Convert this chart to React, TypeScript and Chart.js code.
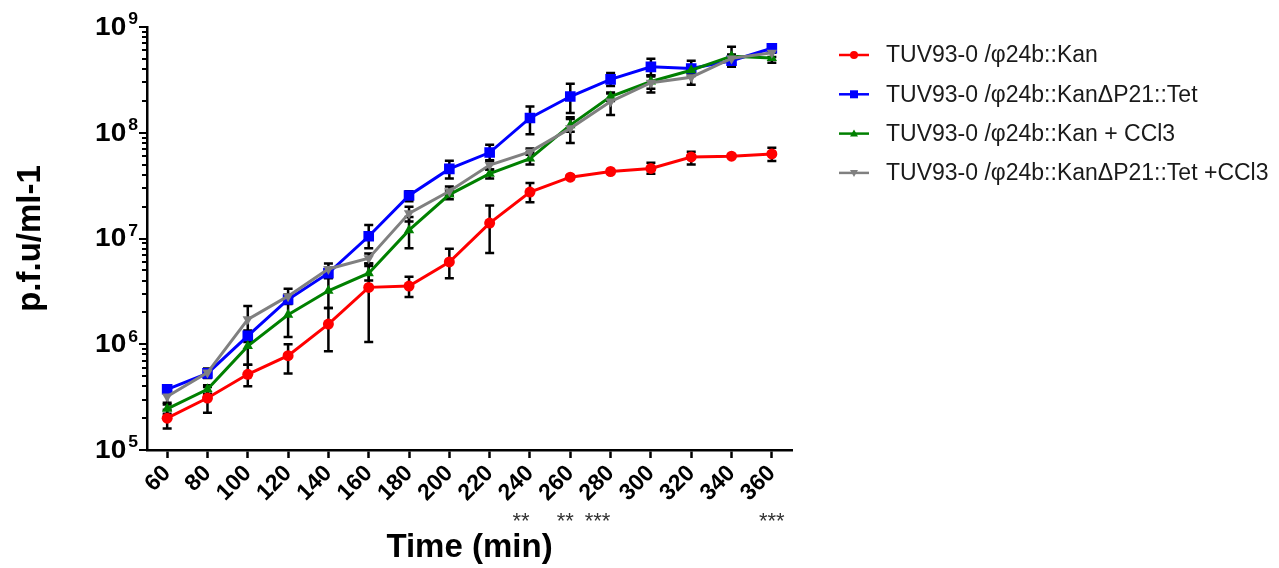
import React, { useEffect, useRef } from 'react';
import { Chart, registerables } from 'chart.js';

Chart.register(...registerables);

// ---------- data ----------
const timeLabels = ['60', '80', '100', '120', '140', '160', '180', '200', '220', '240', '260', '280', '300', '320', '340', '360'];

const seriesNames = [
  'TUV93-0 /\u03c624b::Kan',
  'TUV93-0 /\u03c624b::Kan\u0394P21::Tet',
  'TUV93-0 /\u03c624b::Kan + CCl3',
  'TUV93-0 /\u03c624b::Kan\u0394P21::Tet +CCl3',
];

const kanValues = [2.0e5, 3.1e5, 5.2e5, 7.8e5, 1.55e6, 3.45e6, 3.55e6, 6.0e6, 1.4e7, 2.75e7, 3.8e7, 4.3e7, 4.6e7, 5.9e7, 6.0e7, 6.3e7];
const kanLow = [1.6e5, 2.25e5, 4.0e5, 5.3e5, 8.6e5, 1.05e6, 2.8e6, 4.2e6, 7.3e6, 2.2e7, 3.65e7, 4.15e7, 4.1e7, 5.0e7, 5.8e7, 5.4e7];
const kanHigh = [2.4e5, 3.95e5, 6.4e5, 1.0e6, 2.2e6, 5.8e6, 4.35e6, 8.0e6, 2.05e7, 3.35e7, 3.95e7, 4.45e7, 5.2e7, 6.6e7, 6.2e7, 7.2e7];

const tetValues = [3.75e5, 5.3e5, 1.2e6, 2.65e6, 4.7e6, 1.05e7, 2.55e7, 4.55e7, 6.5e7, 1.38e8, 2.2e8, 3.2e8, 4.2e8, 4.05e8, 4.8e8, 6.3e8];
const tetLow = [3.6e5, 5.0e5, 1.05e6, 2.4e6, 4.3e6, 8.1e6, 2.25e7, 3.7e7, 5.5e7, 9.7e7, 1.54e8, 2.77e8, 3.5e8, 3.45e8, 4.4e8, 5.8e8];
const tetHigh = [3.9e5, 5.7e5, 1.35e6, 2.95e6, 5.1e6, 1.34e7, 2.8e7, 5.45e7, 7.7e7, 1.77e8, 2.9e8, 3.67e8, 5.0e8, 4.8e8, 5.0e8, 6.8e8];

const kanCclValues = [2.45e5, 3.75e5, 9.6e5, 1.9e6, 3.2e6, 4.7e6, 1.2e7, 2.6e7, 4.1e7, 5.7e7, 1.18e8, 2.2e8, 3.05e8, 3.9e8, 5.3e8, 5.1e8];
const kanCclLow = [2.2e5, 3.4e5, 6.4e5, 1.17e6, 2.2e6, 4.0e6, 8.1e6, 2.35e7, 3.7e7, 5.0e7, 1.02e8, 2.0e8, 2.6e8, 3.6e8, 4.2e8, 4.6e8];
const kanCclHigh = [2.7e5, 4.1e5, 1.29e6, 2.6e6, 4.2e6, 5.5e6, 1.6e7, 2.85e7, 4.5e7, 6.5e7, 1.35e8, 2.4e8, 3.4e8, 4.2e8, 6.5e8, 5.7e8];

const tetCclValues = [3.2e5, 5.4e5, 1.72e6, 2.85e6, 5.15e6, 6.5e6, 1.73e7, 2.8e7, 4.95e7, 6.6e7, 1.1e8, 1.97e8, 2.97e8, 3.35e8, 5.05e8, 5.7e8];
const tetCclLow = [2.8e5, 4.8e5, 1.15e6, 2.5e6, 4.5e6, 5.8e6, 1.45e7, 2.55e7, 4.5e7, 6.2e7, 8.0e7, 1.47e8, 2.4e8, 2.85e8, 4.6e8, 5.2e8];
const tetCclHigh = [3.6e5, 5.9e5, 2.3e6, 3.35e6, 5.8e6, 7.2e6, 2.0e7, 3.1e7, 5.4e7, 7.1e7, 1.4e8, 2.35e8, 3.5e8, 3.7e8, 5.5e8, 6.2e8];

const yExponents = [5, 6, 7, 8, 9];
const significanceLabels = ['240', '260', '280', '360'];
const significanceMarks = ['**', '**', '***', '***'];

// ---------- styling ----------
const FONT = '"Liberation Sans", Arial, Helvetica, sans-serif';
const colors = ['#ff0000', '#0000ff', '#008000', '#808080'];
const pointStyles = ['circle', 'rect', 'triangle', 'triangle'];
const pointRotations = [0, 0, 0, 180];
const pointRadii = [5.5, 7.5, 6, 6];
const starOffsets = [-9, -5, -13, 0];

const lows = [kanLow, tetLow, kanCclLow, tetCclLow];
const highs = [kanHigh, tetHigh, kanCclHigh, tetCclHigh];

function drawMarker(ctx: CanvasRenderingContext2D, style: string, rot: number, x: number, y: number, r: number, color: string) {
  ctx.save();
  ctx.fillStyle = color;
  ctx.beginPath();
  if (style === 'circle') {
    ctx.arc(x, y, r, 0, Math.PI * 2);
  } else if (style === 'rect') {
    ctx.rect(x - r, y - r, 2 * r, 2 * r);
  } else {
    const dir = rot === 180 ? -1 : 1;
    ctx.moveTo(x, y - dir * r);
    ctx.lineTo(x + r, y + dir * r * 0.7);
    ctx.lineTo(x - r, y + dir * r * 0.7);
    ctx.closePath();
  }
  ctx.fill();
  ctx.restore();
}

function drawStretched(ctx: CanvasRenderingContext2D, text: string, font: string, xRight: number, yMid: number, sx: number) {
  ctx.save();
  ctx.font = font;
  const w = ctx.measureText(text).width * sx;
  ctx.translate(xRight, yMid);
  ctx.scale(sx, 1);
  ctx.textAlign = 'right';
  ctx.textBaseline = 'middle';
  ctx.fillText(text, 0, 0);
  ctx.restore();
  return w;
}

const customPlugin = {
  id: 'customDecor',
  beforeDatasetsDraw(chart: any) {
    const { ctx } = chart;
    const x = chart.scales.x;
    const y = chart.scales.y;
    ctx.save();
    ctx.strokeStyle = '#000';
    ctx.lineWidth = 2.5;
    chart.data.datasets.forEach((ds: any, di: number) => {
      ds.data.forEach((_v: number, i: number) => {
        const px = x.getPixelForValue(i);
        const yl = y.getPixelForValue(lows[di][i]);
        const yh = y.getPixelForValue(highs[di][i]);
        ctx.beginPath();
        ctx.moveTo(px, yl);
        ctx.lineTo(px, yh);
        ctx.moveTo(px - 4.5, yl);
        ctx.lineTo(px + 4.5, yl);
        ctx.moveTo(px - 4.5, yh);
        ctx.lineTo(px + 4.5, yh);
        ctx.stroke();
      });
    });
    ctx.restore();
  },
  afterDraw(chart: any) {
    const { ctx, chartArea } = chart;
    const y = chart.scales.y;
    const x = chart.scales.x;
    const left = chartArea.left;
    ctx.save();
    // y ticks (major + minor)
    ctx.strokeStyle = '#000';
    ctx.lineWidth = 2;
    yExponents.forEach((e) => {
      for (let m = 1; m <= 9; m++) {
        if (e === 9 && m > 1) break;
        const v = m * Math.pow(10, e);
        const py = Math.round(y.getPixelForValue(v));
        const len = m === 1 ? 8 : 5;
        ctx.beginPath();
        ctx.moveTo(left - len, py);
        ctx.lineTo(left, py);
        ctx.stroke();
      }
    });
    // y tick labels 10^n
    ctx.fillStyle = '#000';
    yExponents.forEach((e) => {
      const py = y.getPixelForValue(Math.pow(10, e));
      const xr = left - 9;
      const supW = drawStretched(ctx, String(e), `bold 16px ${FONT}`, xr, py - 7, 1.1);
      drawStretched(ctx, '10', `bold 25px ${FONT}`, xr - supW - 2, py + 1, 1.12);
    });
    // significance stars
    ctx.font = `22px ${FONT}`;
    ctx.fillStyle = '#333';
    ctx.textAlign = 'center';
    ctx.textBaseline = 'alphabetic';
    significanceLabels.forEach((lab, i) => {
      const idx = timeLabels.indexOf(lab);
      const px = x.getPixelForValue(idx) + starOffsets[i];
      ctx.fillText(significanceMarks[i], px, 528);
    });
    // legend
    const lx0 = 839;
    const lx1 = 869;
    const tx = 886;
    const ly0 = 55;
    const step = 39.3;
    seriesNames.forEach((name, i) => {
      const ly = ly0 + i * step;
      ctx.strokeStyle = colors[i];
      ctx.lineWidth = 2.5;
      ctx.beginPath();
      ctx.moveTo(lx0, ly);
      ctx.lineTo(lx1, ly);
      ctx.stroke();
      drawMarker(ctx, pointStyles[i], pointRotations[i], (lx0 + lx1) / 2, ly, 4, colors[i]);
      ctx.fillStyle = '#1a1a1a';
      ctx.font = `23px ${FONT}`;
      ctx.textAlign = 'left';
      ctx.textBaseline = 'middle';
      ctx.fillText(name, tx, ly + 1);
    });
    ctx.restore();
  },
};

export default function App() {
  const canvasRef = useRef<HTMLCanvasElement | null>(null);

  useEffect(() => {
    const canvas = canvasRef.current;
    if (!canvas) return;
    const valueSets = [kanValues, tetValues, kanCclValues, tetCclValues];
    const chart = new Chart(canvas, {
      type: 'line',
      data: {
        labels: timeLabels,
        datasets: valueSets.map((vals, i) => ({
          label: seriesNames[i],
          data: vals,
          borderColor: colors[i],
          backgroundColor: colors[i],
          borderWidth: 3,
          pointStyle: pointStyles[i] as any,
          rotation: pointRotations[i],
          pointRadius: pointRadii[i],
          pointBorderWidth: 0,
          pointBackgroundColor: colors[i],
          tension: 0,
          fill: false,
          order: 3 - i,
        })),
      },
      options: {
        responsive: false,
        animation: false,
        layout: { padding: { left: 0, top: 27, right: 487, bottom: 0 } },
        plugins: {
          legend: { display: false },
          tooltip: { enabled: false },
        },
        scales: {
          x: {
            type: 'category',
            offset: true,
            grid: { drawOnChartArea: false, drawTicks: true, tickLength: 8, tickWidth: 2.5, tickColor: '#000' },
            border: { display: true, color: '#000', width: 2.5 },
            ticks: {
              autoSkip: false,
              maxRotation: 45,
              minRotation: 45,
              padding: 2,
              color: '#000',
              font: { family: FONT, size: 23, weight: 'bold' },
            },
            title: {
              display: true,
              text: 'Time (min)',
              color: '#000',
              font: { family: FONT, size: 33, weight: 'bold' },
              padding: { top: 0, bottom: 0 },
            },
            afterFit: (scale: any) => {
              scale.height = 118;
            },
          },
          y: {
            type: 'logarithmic',
            min: 1e5,
            max: 1e9,
            grid: { display: false },
            border: { display: true, color: '#000', width: 2.5 },
            ticks: { display: false },
            title: {
              display: true,
              text: 'p.f.u/ml-1',
              color: '#000',
              font: { family: FONT, size: 33, weight: 'bold' },
              padding: { top: 11, bottom: 0 },
            },
            afterFit: (scale: any) => {
              scale.width = 147;
            },
          },
        },
      },
      plugins: [customPlugin],
    });
    return () => chart.destroy();
  }, []);

  return (
    <div style={{ position: 'absolute', left: 0, top: 0, width: 1279, height: 568, background: '#fff' }}>
      <canvas ref={canvasRef} width={1279} height={568} style={{ display: 'block' }} />
    </div>
  );
}
